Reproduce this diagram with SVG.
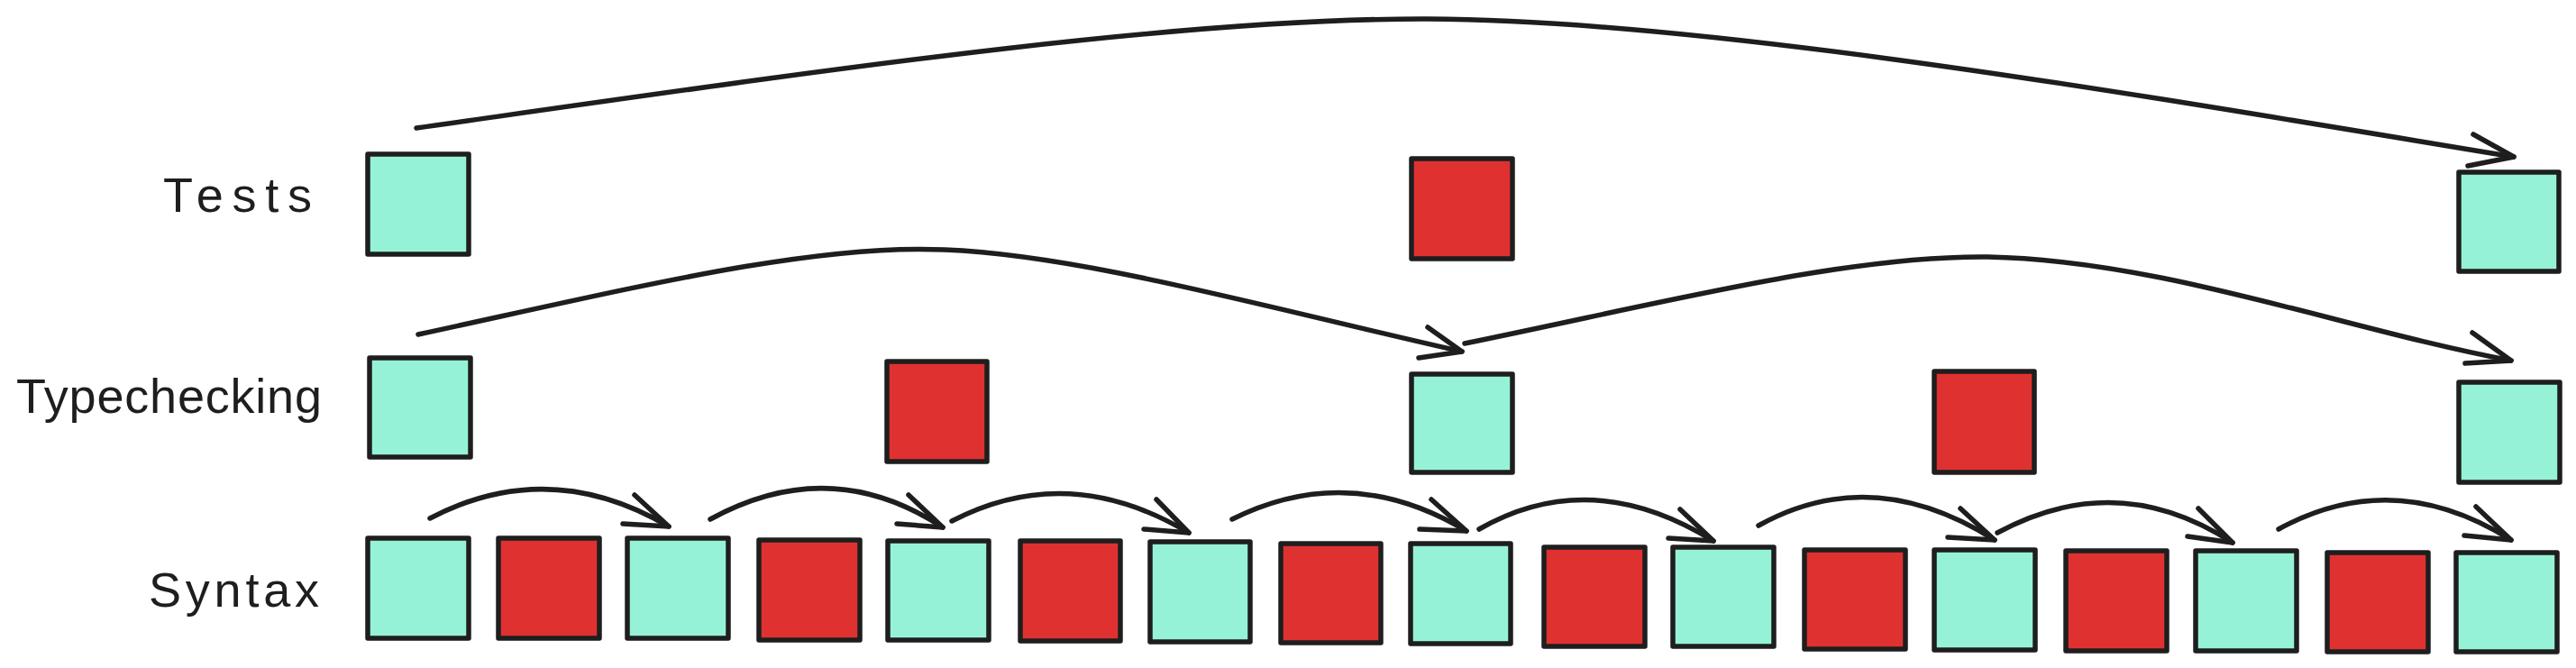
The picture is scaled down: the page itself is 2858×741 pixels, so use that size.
<svg xmlns="http://www.w3.org/2000/svg" width="2858" height="741" viewBox="0 0 2858 741">
<style>
.bg{fill:#ffffff}
.teal{fill:#96f2d7;stroke:#1e1e1e;stroke-width:5.5;stroke-linejoin:round}
.red{fill:#e03131;stroke:#1e1e1e;stroke-width:5.5;stroke-linejoin:round}
.lbl{font-family:"Liberation Sans","DejaVu Sans",sans-serif;font-size:54px;fill:#1e1e1e;text-anchor:end}
.arc{fill:none;stroke:#1e1e1e;stroke-width:5.5;stroke-linecap:round;stroke-linejoin:round}
</style>
<rect class="bg" x="0" y="0" width="2858" height="741"/>

<g id="labels">
<text class="lbl" x="346" y="235" textLength="165" lengthAdjust="spacing">Tests</text>
<text class="lbl" x="357" y="458" textLength="339" lengthAdjust="spacing">Typechecking</text>
<text class="lbl" x="354" y="673" textLength="189" lengthAdjust="spacing">Syntax</text>
</g>

<g id="tests-1"><rect class="teal" x="408" y="171" width="112" height="111"/></g>
<g id="tests-2"><rect class="red" x="1566" y="176" width="112" height="111"/></g>
<g id="tests-3"><rect class="teal" x="2728" y="191" width="111" height="110"/></g>

<g id="type-1"><rect class="teal" x="410" y="397" width="112" height="110"/></g>
<g id="type-2"><rect class="red" x="984" y="401" width="111" height="111"/></g>
<g id="type-3"><rect class="teal" x="1566" y="415" width="112" height="109"/></g>
<g id="type-4"><rect class="red" x="2146" y="412" width="111" height="112"/></g>
<g id="type-5"><rect class="teal" x="2728" y="424" width="112" height="111"/></g>

<g id="syntax-1"><rect class="teal" x="408" y="597" width="112" height="111"/></g>
<g id="syntax-2"><rect class="red" x="553" y="597" width="112" height="111"/></g>
<g id="syntax-3"><rect class="teal" x="696" y="597" width="112" height="111"/></g>
<g id="syntax-4"><rect class="red" x="842" y="599" width="112" height="111"/></g>
<g id="syntax-5"><rect class="teal" x="985" y="600" width="112" height="110"/></g>
<g id="syntax-6"><rect class="red" x="1132" y="600" width="111" height="111"/></g>
<g id="syntax-7"><rect class="teal" x="1276" y="601" width="111" height="111"/></g>
<g id="syntax-8"><rect class="red" x="1421" y="603" width="111" height="110"/></g>
<g id="syntax-9"><rect class="teal" x="1565" y="603" width="111" height="111"/></g>
<g id="syntax-10"><rect class="red" x="1713" y="607" width="112" height="110"/></g>
<g id="syntax-11"><rect class="teal" x="1856" y="607" width="112" height="110"/></g>
<g id="syntax-12"><rect class="red" x="2002" y="610" width="112" height="110"/></g>
<g id="syntax-13"><rect class="teal" x="2146" y="610" width="112" height="111"/></g>
<g id="syntax-14"><rect class="red" x="2292" y="611" width="112" height="111"/></g>
<g id="syntax-15"><rect class="teal" x="2436" y="611" width="112" height="111"/></g>
<g id="syntax-16"><rect class="red" x="2582" y="613" width="112" height="110"/></g>
<g id="syntax-17"><rect class="teal" x="2725" y="613" width="112" height="110"/></g>

<g id="connectors">
<path class="arc" d="M462,142 C900,80 1300,20 1584,21 C1900,22 2400,110 2789,174"/>
<path class="arc" d="M2744,149 L2789,174 L2738,184"/>
<path class="arc" d="M464,371 C700,320 900,270 1048,277 C1200,283 1400,340 1622,390"/>
<path class="arc" d="M1584,363 L1622,390 L1574,397"/>
<path class="arc" d="M1625,381 C1850,335 2050,283 2206,285 C2400,289 2600,365 2786,400"/>
<path class="arc" d="M2743,369 L2786,400 L2735,403"/>

<path class="arc" d="M477,575 Q609,506 742,584"/>
<path class="arc" d="M704,549 L742,584 L691,581"/>
<path class="arc" d="M788,576 Q921,503 1046,585"/>
<path class="arc" d="M1008,549 L1046,585 L995,581"/>
<path class="arc" d="M1056,578 Q1185,511 1319,591"/>
<path class="arc" d="M1283,554 L1319,591 L1269,587"/>
<path class="arc" d="M1367,576 Q1497,511 1627,589"/>
<path class="arc" d="M1588,554 L1627,589 L1575,587"/>
<path class="arc" d="M1641,587 Q1765,516 1901,600"/>
<path class="arc" d="M1864,565 L1901,600 L1851,597"/>
<path class="arc" d="M1951,583 Q2077,513 2213,599"/>
<path class="arc" d="M2175,564 L2213,599 L2161,596"/>
<path class="arc" d="M2216,591 Q2349,519 2477,602"/>
<path class="arc" d="M2439,564 L2477,602 L2427,595"/>
<path class="arc" d="M2528,587 Q2656,517 2786,599"/>
<path class="arc" d="M2747,562 L2786,599 L2734,594"/>
</g>
</svg>
